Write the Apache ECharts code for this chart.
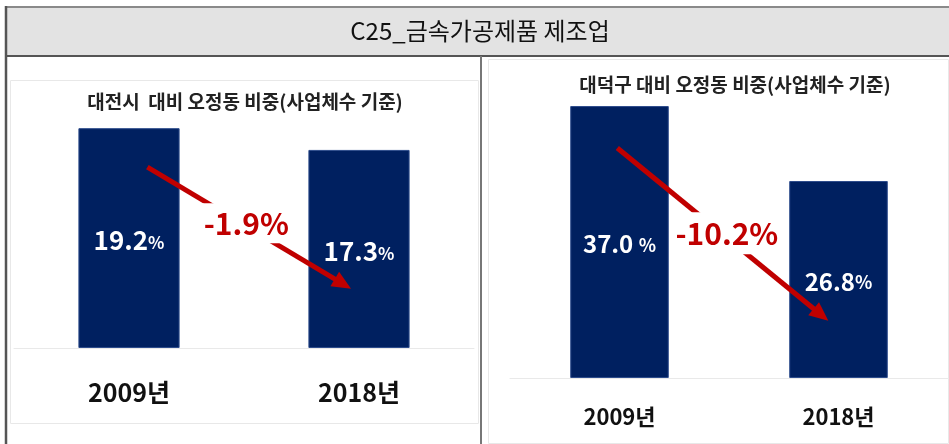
<!DOCTYPE html>
<html>
<head>
<meta charset="utf-8">
<script src="https://cdn.jsdelivr.net/npm/echarts@6/dist/echarts.min.js"></script>
<style>
  html, body { margin: 0; padding: 0; background: #fff; }
  #main { width: 949px; height: 444px; }
</style>
</head>
<body>
<div id="main"></div>
<script>
const years = ['2009년', '2018년'];
const daejeonShare = [19.2, 17.3];
const daedeokShare = [37.0, 26.8];
const daejeonPctGap = ['', ''];
const daedeokPctGap = [' ', ''];

// arrow ends as [position across the two year bands (0..2), share %]
const daejeonArrow = [[0.58, 15.8], [1.43, 5.6]];
const daedeokArrow = [[0.49, 31.3], [1.42, 8.6]];
const daejeonDiffAt = [1.01, 10.9];
const daedeokDiffAt = [0.99, 19.7];

const FONT = 'Noto Sans CJK KR';
const NAVY = '#002060';
const RED = '#c00000';

let chart = echarts.init(document.getElementById('main'));

function diffText(vals) {
  return (vals[1] - vals[0]).toFixed(1) + '%';
}

function barSeries(idx, vals, gaps, numSize, pctSize, width) {
  return {
    type: 'bar',
    xAxisIndex: idx * 2,
    yAxisIndex: idx,
    data: vals,
    barWidth: width,
    itemStyle: { color: NAVY, borderColor: '#2d4c8c', borderWidth: 1 },
    label: {
      show: true,
      position: 'inside',
      formatter: p => '{v|' + p.value.toFixed(1) + gaps[p.dataIndex] + '}{p|%}',
      rich: {
        v: { fontSize: numSize, fontWeight: 'bold', color: '#fff', fontFamily: FONT, verticalAlign: 'bottom', lineHeight: numSize + 4 },
        p: { fontSize: pctSize, fontWeight: 'bold', color: '#fff', fontFamily: FONT, verticalAlign: 'bottom', lineHeight: pctSize + 4, padding: [0, 0, 2, 0] }
      }
    }
  };
}

function arrowSeries(idx, arrow, diffAt, vals, boxSize) {
  return {
    type: 'line',
    xAxisIndex: idx * 2 + 1,
    yAxisIndex: idx,
    data: [],
    markLine: {
      silent: true,
      symbol: ['none', 'triangle'],
      symbolSize: [17, 19],
      z: 5,
      lineStyle: { color: RED, width: 5, type: 'solid' },
      label: { show: false },
      data: [[{ coord: arrow[0] }, { coord: arrow[1] }]]
    },
    markPoint: {
      silent: true,
      symbol: 'rect',
      symbolSize: boxSize,
      z: 10,
      itemStyle: { color: '#fff' },
      label: {
        show: true,
        position: 'inside',
        color: RED,
        fontSize: 30,
        fontWeight: 'bold',
        fontFamily: FONT,
        formatter: diffText(vals)
      },
      data: [{ coord: diffAt }]
    }
  };
}

function catAxis(idx, size, margin) {
  return {
    type: 'category',
    gridIndex: idx,
    data: years,
    axisLine: { lineStyle: { color: '#e9e9e9', width: 1 } },
    axisTick: { show: false },
    axisLabel: { fontSize: size, fontWeight: 'bold', color: '#111', margin: margin, fontFamily: FONT }
  };
}

let option = {
  animation: false,
  textStyle: { fontFamily: FONT },
  title: [
    {
      text: 'C25_금속가공제품 제조업',
      left: 480, top: 16, textAlign: 'center', padding: 0,
      textStyle: { fontSize: 24, fontWeight: 'normal', color: '#111', lineHeight: 30 }
    },
    {
      text: '대전시  대비 오정동 비중(사업체수 기준)',
      left: 245, top: 90, textAlign: 'center', padding: 0,
      textStyle: { fontSize: 19, fontWeight: 'bold', color: '#222', lineHeight: 24 }
    },
    {
      text: '대덕구 대비 오정동 비중(사업체수 기준)',
      left: 735, top: 73, textAlign: 'center', padding: 0,
      textStyle: { fontSize: 19, fontWeight: 'bold', color: '#222', lineHeight: 24 }
    }
  ],
  graphic: [
    { type: 'rect', z: -10, shape: { x: 6, y: 7, width: 943, height: 49 }, style: { fill: '#e3e3e3' } },
    { type: 'line', z: -9, shape: { x1: 6, y1: 7, x2: 949, y2: 7 }, style: { stroke: '#8a8a8a', lineWidth: 2 } },
    { type: 'line', z: -9, shape: { x1: 6, y1: 56, x2: 949, y2: 56 }, style: { stroke: '#555', lineWidth: 2 } },
    { type: 'line', z: -9, shape: { x1: 6, y1: 6, x2: 6, y2: 444 }, style: { stroke: '#555', lineWidth: 2.5 } },
    { type: 'line', z: -9, shape: { x1: 481, y1: 56, x2: 481, y2: 444 }, style: { stroke: '#777', lineWidth: 2 } },
    { type: 'rect', z: -9, shape: { x: 10.5, y: 80.5, width: 468, height: 343 }, style: { fill: null, stroke: '#e8e8e8', lineWidth: 1 } },
    { type: 'rect', z: -9, shape: { x: 488.5, y: 59.5, width: 460, height: 384 }, style: { fill: null, stroke: '#e8e8e8', lineWidth: 1 } }
  ],
  grid: [
    { left: 14, top: 119, width: 460, height: 229 },
    { left: 510, top: 84, width: 438, height: 294 }
  ],
  xAxis: [
    catAxis(0, 25, 32),
    { type: 'value', gridIndex: 0, min: 0, max: 2, show: false },
    catAxis(1, 22, 28),
    { type: 'value', gridIndex: 1, min: 0, max: 2, show: false }
  ],
  yAxis: [
    { type: 'value', gridIndex: 0, min: 0, max: 20, show: false },
    { type: 'value', gridIndex: 1, min: 0, max: 40, show: false }
  ],
  series: [
    barSeries(0, daejeonShare, daejeonPctGap, 26, 17, '44%'),
    barSeries(1, daedeokShare, daedeokPctGap, 24, 18, '45%'),
    arrowSeries(0, daejeonArrow, daejeonDiffAt, daejeonShare, [88, 40]),
    arrowSeries(1, daedeokArrow, daedeokDiffAt, daedeokShare, [100, 42])
  ]
};

chart.setOption(option);
window.onresize = () => chart.resize();
</script>
</body>
</html>
